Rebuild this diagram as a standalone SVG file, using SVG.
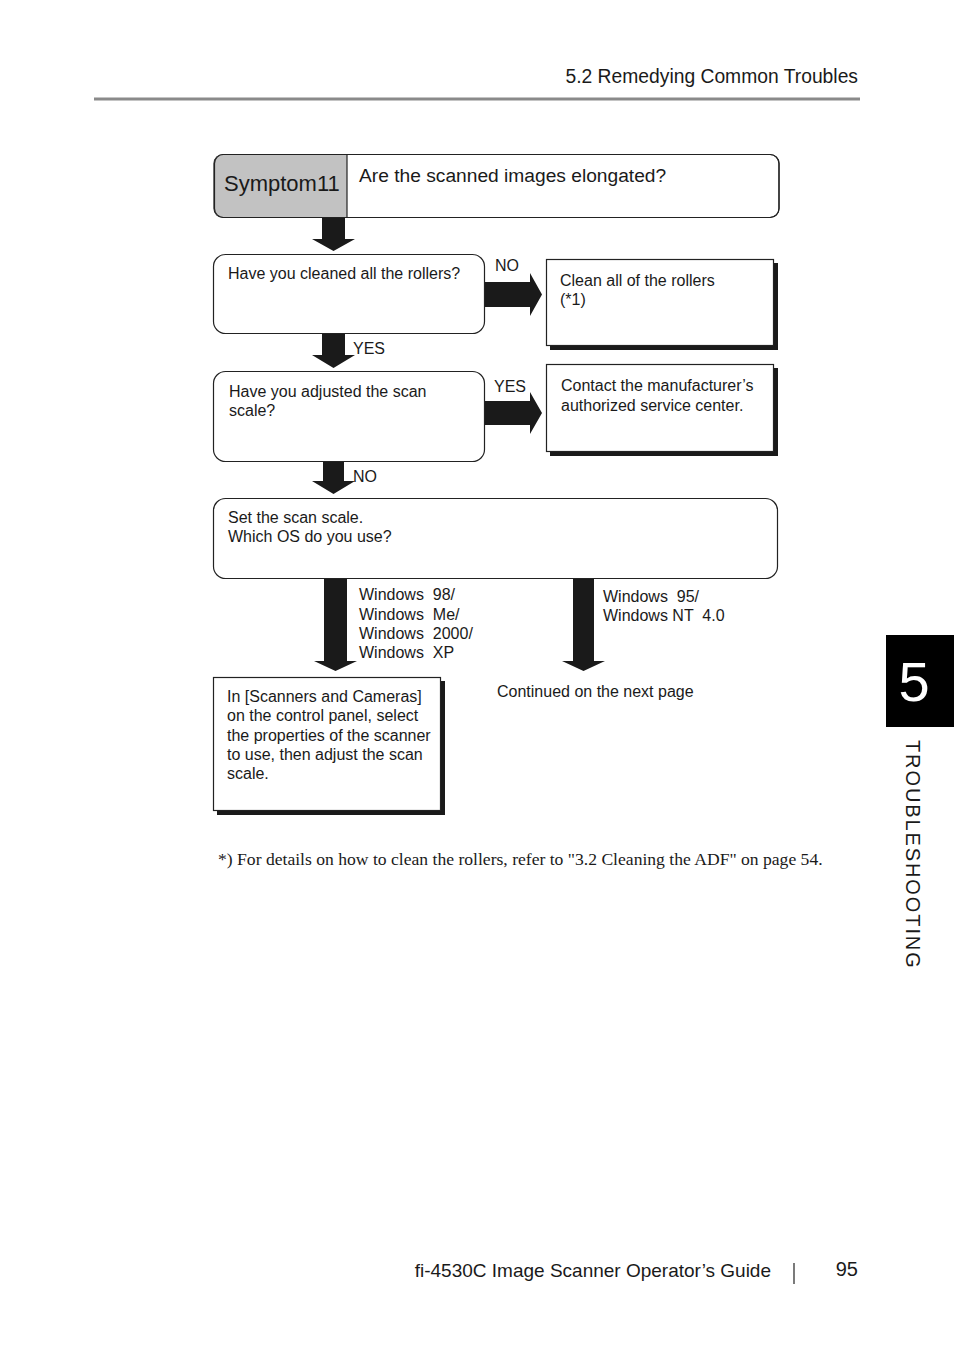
<svg xmlns="http://www.w3.org/2000/svg" width="954" height="1351" viewBox="0 0 954 1351">
<style>
text{font-family:"Liberation Sans",Arial,sans-serif;fill:#1a1a1a}
.t15{font-size:16px}
.box{fill:#fff;stroke:#222;stroke-width:1.2}
.shadow{fill:#1a1a1a}
.arr{fill:#1a1a1a}
</style>
<rect width="954" height="1351" fill="#fff"/>
<g id="header">
<text x="858" y="83" font-size="19.3" text-anchor="end">5.2 Remedying Common Troubles</text>
<rect x="94" y="97.5" width="766" height="3" fill="#8a8a8a"/>
</g>
<g id="symptom">
<rect class="box" x="214" y="154.5" width="565" height="63" rx="9"/>
<path d="M347,155 H223 Q214.5,155 214.5,163.5 V208.5 Q214.5,217 223,217 H347 Z" fill="#c2c2c2"/>
<rect x="214.5" y="154.5" width="564.5" height="63" rx="9" fill="none" stroke="#222" stroke-width="1.2"/>
<line x1="347" y1="154.5" x2="347" y2="217.5" stroke="#222" stroke-width="1.2"/>
<text x="224" y="191" font-size="22">Symptom11</text>
<text x="359" y="182" font-size="19.2">Are the scanned images elongated?</text>
</g>
<g id="q1">
<rect class="box" x="213.5" y="254.5" width="271" height="79" rx="12"/>
<text class="t15" x="228" y="279">Have you cleaned all the rollers?</text>
</g>
<g id="a1">
<rect class="shadow" x="550" y="263" width="228" height="87"/>
<rect class="box" x="546.5" y="259.5" width="227" height="86"/>
<text class="t15" x="560" y="286">Clean all of the rollers</text>
<text class="t15" x="560" y="305">(*1)</text>
</g>
<g id="q2">
<rect class="box" x="213.5" y="371.5" width="271" height="90" rx="12"/>
<text class="t15" x="229" y="397">Have you adjusted the scan</text>
<text class="t15" x="229" y="416">scale?</text>
</g>
<g id="a2">
<rect class="shadow" x="550" y="368" width="228" height="88"/>
<rect class="box" x="546.5" y="364.5" width="227" height="87"/>
<text class="t15" x="561" y="391">Contact the manufacturer’s</text>
<text class="t15" x="561" y="411">authorized service center.</text>
</g>
<g id="q3">
<rect class="box" x="213.5" y="498.5" width="564" height="80" rx="12"/>
<text class="t15" x="228" y="523">Set the scan scale.</text>
<text class="t15" x="228" y="542">Which OS do you use?</text>
</g>
<g id="a3">
<rect class="shadow" x="217" y="681" width="228" height="134"/>
<rect class="box" x="213.5" y="677.5" width="227" height="133"/>
<text class="t15" x="227" y="702">In [Scanners and Cameras]</text>
<text class="t15" x="227" y="721">on the control panel, select</text>
<text class="t15" x="227" y="741">the properties of the scanner</text>
<text class="t15" x="227" y="760">to use, then adjust the scan</text>
<text class="t15" x="227" y="779">scale.</text>
</g>
<g id="continued">
<text class="t15" x="497" y="697">Continued on the next page</text>
</g>
<g id="connectors">
<polygon class="arr" points="322,218 345,218 345,239 355,239 333.5,251 312,239 322,239"/>
<polygon class="arr" points="322,334 345,334 345,355 355,355 333.5,368 312,355 322,355"/>
<polygon class="arr" points="323,462 344,462 344,481 355,481 333.5,494 312,481 323,481"/>
<polygon class="arr" points="324,579 347,579 347,661 357,661 335.5,671 314,661 324,661"/>
<polygon class="arr" points="573,579 594,579 594,661 605,661 583.5,671 562,661 573,661"/>
<polygon class="arr" points="485,282 530,282 530,273 542,294.5 530,316 530,307 485,307"/>
<polygon class="arr" points="485,401 530,401 530,392 542,413 530,434 530,425 485,425"/>
<text class="t15" x="495" y="271">NO</text>
<text class="t15" x="353" y="354">YES</text>
<text class="t15" x="494" y="392">YES</text>
<text class="t15" x="353" y="482">NO</text>
<text class="t15" x="359" y="600" xml:space="preserve">Windows  98/</text>
<text class="t15" x="359" y="620" xml:space="preserve">Windows  Me/</text>
<text class="t15" x="359" y="639" xml:space="preserve">Windows  2000/</text>
<text class="t15" x="359" y="658" xml:space="preserve">Windows  XP</text>
<text class="t15" x="603" y="602" xml:space="preserve">Windows  95/</text>
<text class="t15" x="603" y="621" xml:space="preserve">Windows NT  4.0</text>
</g>
<g id="footnote">
<text x="218" y="865" font-size="17.6" style="font-family:'Liberation Serif','Times New Roman',serif">*) For details on how to clean the rollers, refer to "3.2 Cleaning the ADF" on page 54.</text>
</g>
<g id="tab">
<rect x="886" y="635" width="68" height="92" fill="#000"/>
<text x="914" y="701" font-size="56" text-anchor="middle" style="fill:#fff">5</text>
<text x="906" y="740" font-size="20" letter-spacing="1.9" transform="rotate(90 906 740)">TROUBLESHOOTING</text>
</g>
<g id="footer">
<text x="771" y="1277" font-size="19" text-anchor="end">fi-4530C Image Scanner Operator’s Guide</text>
<line x1="794" y1="1263" x2="794" y2="1284" stroke="#222" stroke-width="1.2"/>
<text x="858" y="1276" font-size="20" text-anchor="end">95</text>
</g>
</svg>
